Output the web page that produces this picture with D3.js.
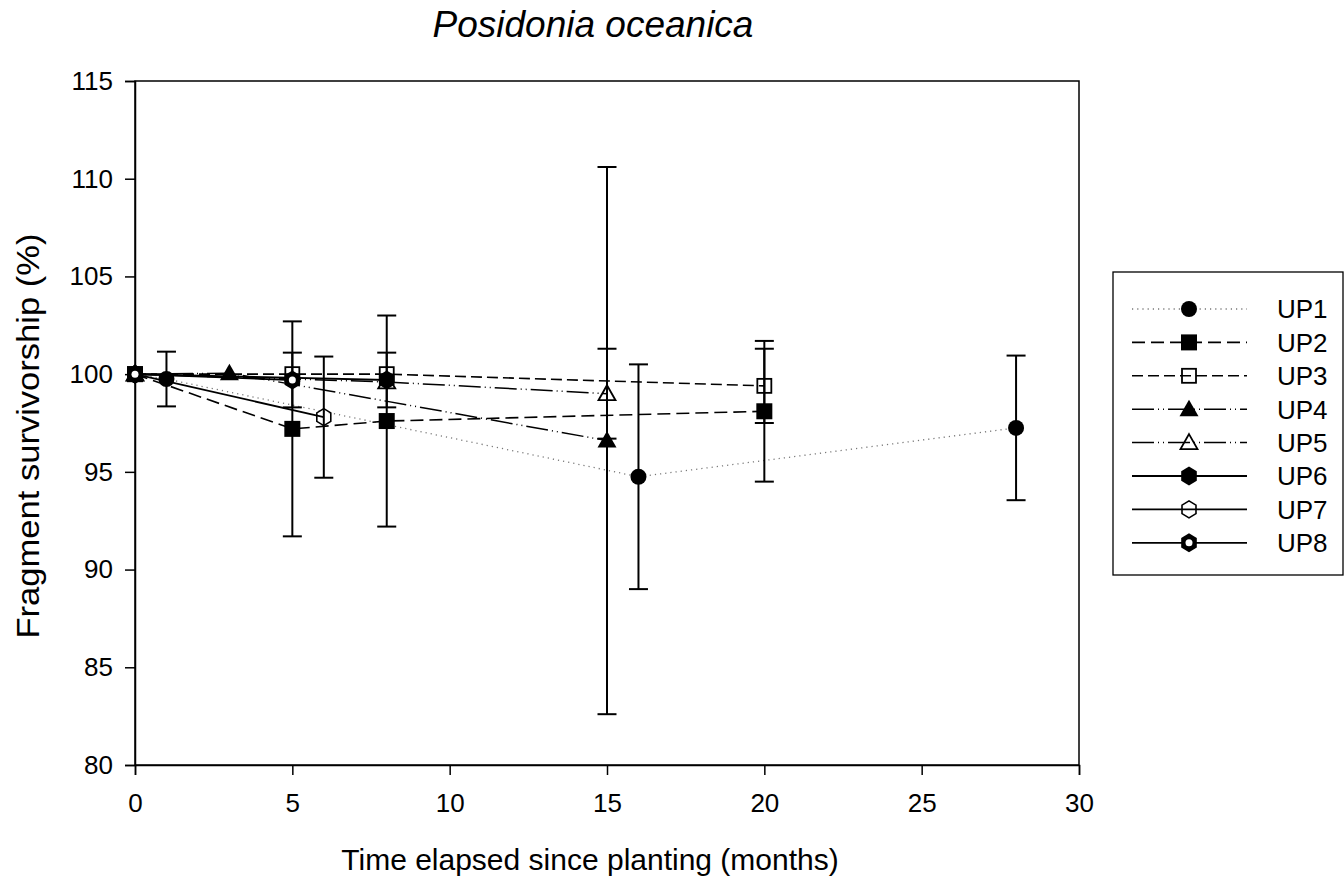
<!DOCTYPE html>
<html>
<head>
<meta charset="utf-8">
<script src="https://cdn.jsdelivr.net/npm/d3@7"></script>
<style>
  html, body { margin: 0; padding: 0; background: #fff; }
  text { font-family: "Liberation Sans", Arial, sans-serif; fill: #000; }
</style>
</head>
<body>
<svg id="chart" width="1344" height="877"></svg>
<script>
// ---- data ----
const seriesNames = ["UP1", "UP2", "UP3", "UP4", "UP5", "UP6", "UP7", "UP8"];
const up1Months = [0, 1, 16, 28];
const up1Values = [100, 99.75, 94.75, 97.25];
const up1Errors = [0, 1.4, 5.75, 3.7];
const up2Months = [0, 5, 8, 20];
const up2Values = [100, 97.2, 97.6, 98.1];
const up2Errors = [0, 5.5, 5.4, 3.6];
const up3Months = [0, 5, 8, 20];
const up3Values = [100, 100, 100, 99.4];
const up3Errors = [0, 0, 0, 1.9];
const up4Months = [0, 3, 15];
const up4Values = [100, 100.05, 96.6];
const up4Errors = [0, 0, 14];
const up5Months = [0, 8, 15];
const up5Values = [100, 99.6, 99.0];
const up5Errors = [0, 0, 2.3];
const up6Months = [0, 8];
const up6Values = [100, 99.7];
const up6Errors = [0, 1.4];
const up7Months = [0, 6];
const up7Values = [100, 97.8];
const up7Errors = [0, 3.1];
const up8Months = [0, 5];
const up8Values = [100, 99.7];
const up8Errors = [0, 1.4];
const xTicks = [0, 5, 10, 15, 20, 25, 30];
const yTicks = [80, 85, 90, 95, 100, 105, 110, 115];
const chartTitle = "Posidonia oceanica";
const xTitle = "Time elapsed since planting (months)";
const yTitle = "Fragment survivorship (%)";

const seriesData = [
  [up1Months, up1Values, up1Errors],
  [up2Months, up2Values, up2Errors],
  [up3Months, up3Values, up3Errors],
  [up4Months, up4Values, up4Errors],
  [up5Months, up5Values, up5Errors],
  [up6Months, up6Values, up6Errors],
  [up7Months, up7Values, up7Errors],
  [up8Months, up8Values, up8Errors]
];

// ---- styles ----
const lineStyles = [
  { dash: "1.2,4", color: "#777", width: 1.3 },
  { dash: "13,6", color: "#000", width: 1.6 },
  { dash: "11,5", color: "#000", width: 1.6 },
  { dash: "22,4,1,4,1,4", color: "#000", width: 1.5 },
  { dash: "22,4,1,4,1,4", color: "#000", width: 1.5 },
  { dash: null, color: "#000", width: 1.8 },
  { dash: null, color: "#000", width: 1.8 },
  { dash: null, color: "#000", width: 1.8 }
];
const markerTypes = ["circle", "square", "squareOpen", "triangle", "triangleOpen", "hex", "hexOpen", "hexDot"];

const svg = d3.select("#chart");
const margin = { left: 135, right: 1079, top: 81, bottom: 765 };
const x = d3.scaleLinear().domain([0, 30]).range([margin.left, margin.right]);
const y = d3.scaleLinear().domain([80, 115]).range([margin.bottom, margin.top]);

// frame
svg.append("rect")
  .attr("x", margin.left).attr("y", margin.top)
  .attr("width", margin.right - margin.left).attr("height", margin.bottom - margin.top)
  .attr("fill", "none").attr("stroke", "#000").attr("stroke-width", 1.5);

// axes
const xAxis = svg.append("g").attr("transform", `translate(0,${margin.bottom})`)
  .call(d3.axisBottom(x).tickValues(xTicks).tickSize(10).tickPadding(19).tickFormat(d3.format("d")));
const yAxis = svg.append("g").attr("transform", `translate(${margin.left},0)`)
  .call(d3.axisLeft(y).tickValues(yTicks).tickSize(10).tickPadding(12).tickFormat(d3.format("d")));
[xAxis, yAxis].forEach(g => {
  g.select(".domain").attr("stroke", "#000").attr("stroke-width", 1.5);
  g.selectAll(".tick line").attr("stroke", "#000").attr("stroke-width", 1.5);
  g.selectAll(".tick text").style("font-family", "Liberation Sans, Arial, sans-serif")
    .style("font-size", "26px").attr("fill", "#000");
});

// titles
svg.append("text").attr("x", 593).attr("y", 37).attr("text-anchor", "middle")
  .style("font-size", "37px").style("font-style", "italic").text(chartTitle);
svg.append("text").attr("x", 590).attr("y", 870).attr("text-anchor", "middle")
  .style("font-size", "30px").text(xTitle);
svg.append("text").attr("transform", "translate(39,436) rotate(-90)").attr("text-anchor", "middle")
  .style("font-size", "32px").attr("textLength", 405).attr("lengthAdjust", "spacingAndGlyphs")
  .text(yTitle);

// marker drawing
function hexPoints(r) {
  const pts = [];
  for (let i = 0; i < 6; i++) {
    const a = Math.PI / 2 + i * Math.PI / 3;
    pts.push([r * Math.cos(a) * 0.95, r * Math.sin(a)]);
  }
  return pts.map(p => p.join(",")).join(" ");
}
function drawMarker(g, type, cx, cy) {
  const m = g.append("g").attr("transform", `translate(${cx},${cy})`);
  switch (type) {
    case "circle":
      m.append("circle").attr("r", 8).attr("fill", "#000");
      break;
    case "square":
      m.append("rect").attr("x", -8).attr("y", -8).attr("width", 16).attr("height", 16).attr("fill", "#000");
      break;
    case "squareOpen":
      m.append("rect").attr("x", -7).attr("y", -7).attr("width", 14).attr("height", 14)
        .attr("fill", "none").attr("stroke", "#000").attr("stroke-width", 1.8);
      break;
    case "triangle":
      m.append("path").attr("d", "M0,-9.5 L9.5,7 L-9.5,7 Z").attr("fill", "#000");
      break;
    case "triangleOpen":
      m.append("path").attr("d", "M0,-8.5 L8.5,6.5 L-8.5,6.5 Z")
        .attr("fill", "none").attr("stroke", "#000").attr("stroke-width", 1.8);
      break;
    case "hex":
      m.append("polygon").attr("points", hexPoints(9.5)).attr("fill", "#000");
      break;
    case "hexOpen":
      m.append("polygon").attr("points", hexPoints(8.5))
        .attr("fill", "none").attr("stroke", "#000").attr("stroke-width", 1.6);
      break;
    case "hexDot":
      m.append("polygon").attr("points", hexPoints(9.5)).attr("fill", "#000");
      m.append("circle").attr("r", 3.5).attr("fill", "#fff");
      break;
  }
}

const line = d3.line().x(d => x(d[0])).y(d => y(d[1]));
const plot = svg.append("g");

// lines
seriesData.forEach((s, i) => {
  const pts = s[0].map((m, j) => [m, s[1][j]]);
  const st = lineStyles[i];
  plot.append("path").datum(pts).attr("d", line)
    .attr("fill", "none").attr("stroke", st.color).attr("stroke-width", st.width)
    .attr("stroke-dasharray", st.dash);
});

// error bars
const capHalf = 9.5;
seriesData.forEach((s) => {
  s[0].forEach((m, j) => {
    const e = s[2][j];
    if (!e) return;
    const cx = x(m), top = y(s[1][j] + e), bot = y(s[1][j] - e);
    plot.append("line").attr("x1", cx).attr("x2", cx).attr("y1", top).attr("y2", bot)
      .attr("stroke", "#000").attr("stroke-width", 2);
    [top, bot].forEach(yy => plot.append("line")
      .attr("x1", cx - capHalf).attr("x2", cx + capHalf).attr("y1", yy).attr("y2", yy)
      .attr("stroke", "#000").attr("stroke-width", 2));
  });
});

// markers
seriesData.forEach((s, i) => {
  s[0].forEach((m, j) => drawMarker(plot, markerTypes[i], x(m), y(s[1][j])));
});

// legend
const lg = svg.append("g");
lg.append("rect").attr("x", 1113).attr("y", 272).attr("width", 230).attr("height", 303)
  .attr("fill", "#fff").attr("stroke", "#000").attr("stroke-width", 1.3);
seriesNames.forEach((name, i) => {
  const ly = 309 + i * 33.4;
  const st = lineStyles[i];
  lg.append("line").attr("x1", 1132).attr("x2", 1247).attr("y1", ly).attr("y2", ly)
    .attr("stroke", st.color).attr("stroke-width", st.width).attr("stroke-dasharray", st.dash);
  drawMarker(lg, markerTypes[i], 1189, ly);
  lg.append("text").attr("x", 1277).attr("y", ly).attr("dy", "0.36em")
    .style("font-size", "26px").text(name);
});
</script>
</body>
</html>
